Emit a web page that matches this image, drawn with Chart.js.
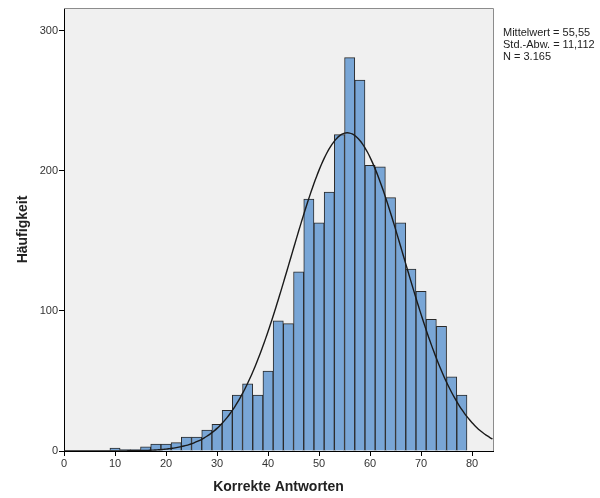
<!DOCTYPE html>
<html>
<head>
<meta charset="utf-8">
<script src="https://cdn.jsdelivr.net/npm/chart.js@4/dist/chart.umd.min.js"></script>
<style>
  html, body { margin: 0; padding: 0; background: #fff; }
  #wrap { width: 600px; height: 498px; }
</style>
</head>
<body>
<div id="wrap"><canvas id="hist" width="600" height="498"></canvas></div>
<script>
// --- Data ---
const binCenters = [10, 12, 14, 16, 18, 20, 22, 24, 26, 28, 30, 32, 34, 36, 38, 40, 42, 44, 46, 48,
  50, 52, 54, 56, 58, 60, 62, 64, 66, 68, 70, 72, 74, 76, 78];
const counts = [2, 1, 1, 3, 5, 5, 6, 10, 10, 15, 19, 29, 40, 48, 40, 57, 93, 91, 128, 180,
  163, 185, 226, 281, 265, 204, 203, 181, 163, 130, 114, 94, 89, 53, 40];
const xTicks = [0, 10, 20, 30, 40, 50, 60, 70, 80];
const yTicks = [0, 100, 200, 300];
const statLines = ["Mittelwert = 55,55", "Std.-Abw. = 11,112", "N = 3.165"];
const mean = 55.55;
const sd = 11.112;
const n = 3165;
const binWidth = 2;

// fitted normal curve from the stats shown in the legend
const curve = [];
for (let x = 0; x <= 84.2; x += 0.5) {
  const z = (x - mean) / sd;
  curve.push({ x: x, y: n * binWidth / (sd * Math.sqrt(2 * Math.PI)) * Math.exp(-0.5 * z * z) });
}

const plotBg = {
  id: "plotBg",
  beforeDraw(c) {
    const a = c.chartArea, ctx = c.ctx;
    ctx.save();
    ctx.fillStyle = "#f0f0f0";
    ctx.fillRect(a.left, a.top, a.right - a.left, a.bottom - a.top);
    ctx.restore();
  },
  afterDraw(c) {
    const a = c.chartArea, ctx = c.ctx;
    ctx.save();
    ctx.strokeStyle = "#8c8c8c";
    ctx.lineWidth = 1;
    ctx.beginPath();
    ctx.moveTo(a.left, a.top + 0.5);
    ctx.lineTo(a.right + 0.5, a.top + 0.5);
    ctx.lineTo(a.right + 0.5, a.bottom);
    ctx.stroke();
    ctx.fillStyle = "#222";
    ctx.font = "11px Arial, 'Liberation Sans', sans-serif";
    ctx.textBaseline = "middle";
    statLines.forEach((s, i) => ctx.fillText(s, a.right + 10, 33 + i * 12));
    ctx.restore();
  }
};

new Chart(document.getElementById("hist"), {
  data: {
    datasets: [
      {
        type: "bar",
        data: binCenters.map((x, i) => ({ x: x, y: counts[i] })),
        backgroundColor: "#79a6d6",
        borderColor: "#2a2a2a",
        borderWidth: 1,
        barPercentage: 1,
        categoryPercentage: 1,
        order: 2
      },
      {
        type: "line",
        data: curve,
        borderColor: "#1a1a1a",
        borderWidth: 1.4,
        pointRadius: 0,
        tension: 0.3,
        order: 1
      }
    ]
  },
  options: {
    responsive: false,
    animation: false,
    events: [],
    layout: { padding: { top: 8, right: 107, left: 0, bottom: 0 } },
    plugins: { legend: { display: false }, tooltip: { enabled: false } },
    scales: {
      x: {
        type: "linear",
        offset: false,
        min: 0,
        max: 84.1,
        afterBuildTicks: (s) => { s.ticks = xTicks.map((v) => ({ value: v })); },
        afterFit: (s) => { s.height = 47; },
        grid: { offset: false, drawOnChartArea: false, drawTicks: true, tickLength: 5, color: "#000", tickColor: "#000" },
        border: { color: "#000", width: 1 },
        ticks: { color: "#333", font: { family: "Arial, 'Liberation Sans', sans-serif", size: 11 }, padding: 1, maxRotation: 0 },
        title: {
          display: true,
          text: "Korrekte Antworten",
          color: "#222",
          font: { family: "Arial, 'Liberation Sans', sans-serif", size: 14, weight: "bold" },
          padding: { top: 8, bottom: 2 }
        }
      },
      y: {
        min: 0,
        max: 316.4,
        afterBuildTicks: (s) => { s.ticks = yTicks.map((v) => ({ value: v })); },
        afterFit: (s) => { s.width = 64; },
        grid: { drawOnChartArea: false, drawTicks: true, tickLength: 5, color: "#000", tickColor: "#000" },
        border: { color: "#000", width: 1 },
        ticks: { color: "#333", font: { family: "Arial, 'Liberation Sans', sans-serif", size: 11 }, padding: 1 },
        title: {
          display: true,
          text: "Häufigkeit",
          color: "#222",
          font: { family: "Arial, 'Liberation Sans', sans-serif", size: 14, weight: "bold" },
          padding: { top: 15, bottom: 6 }
        }
      }
    }
  },
  plugins: [plotBg]
});
</script>
</body>
</html>
